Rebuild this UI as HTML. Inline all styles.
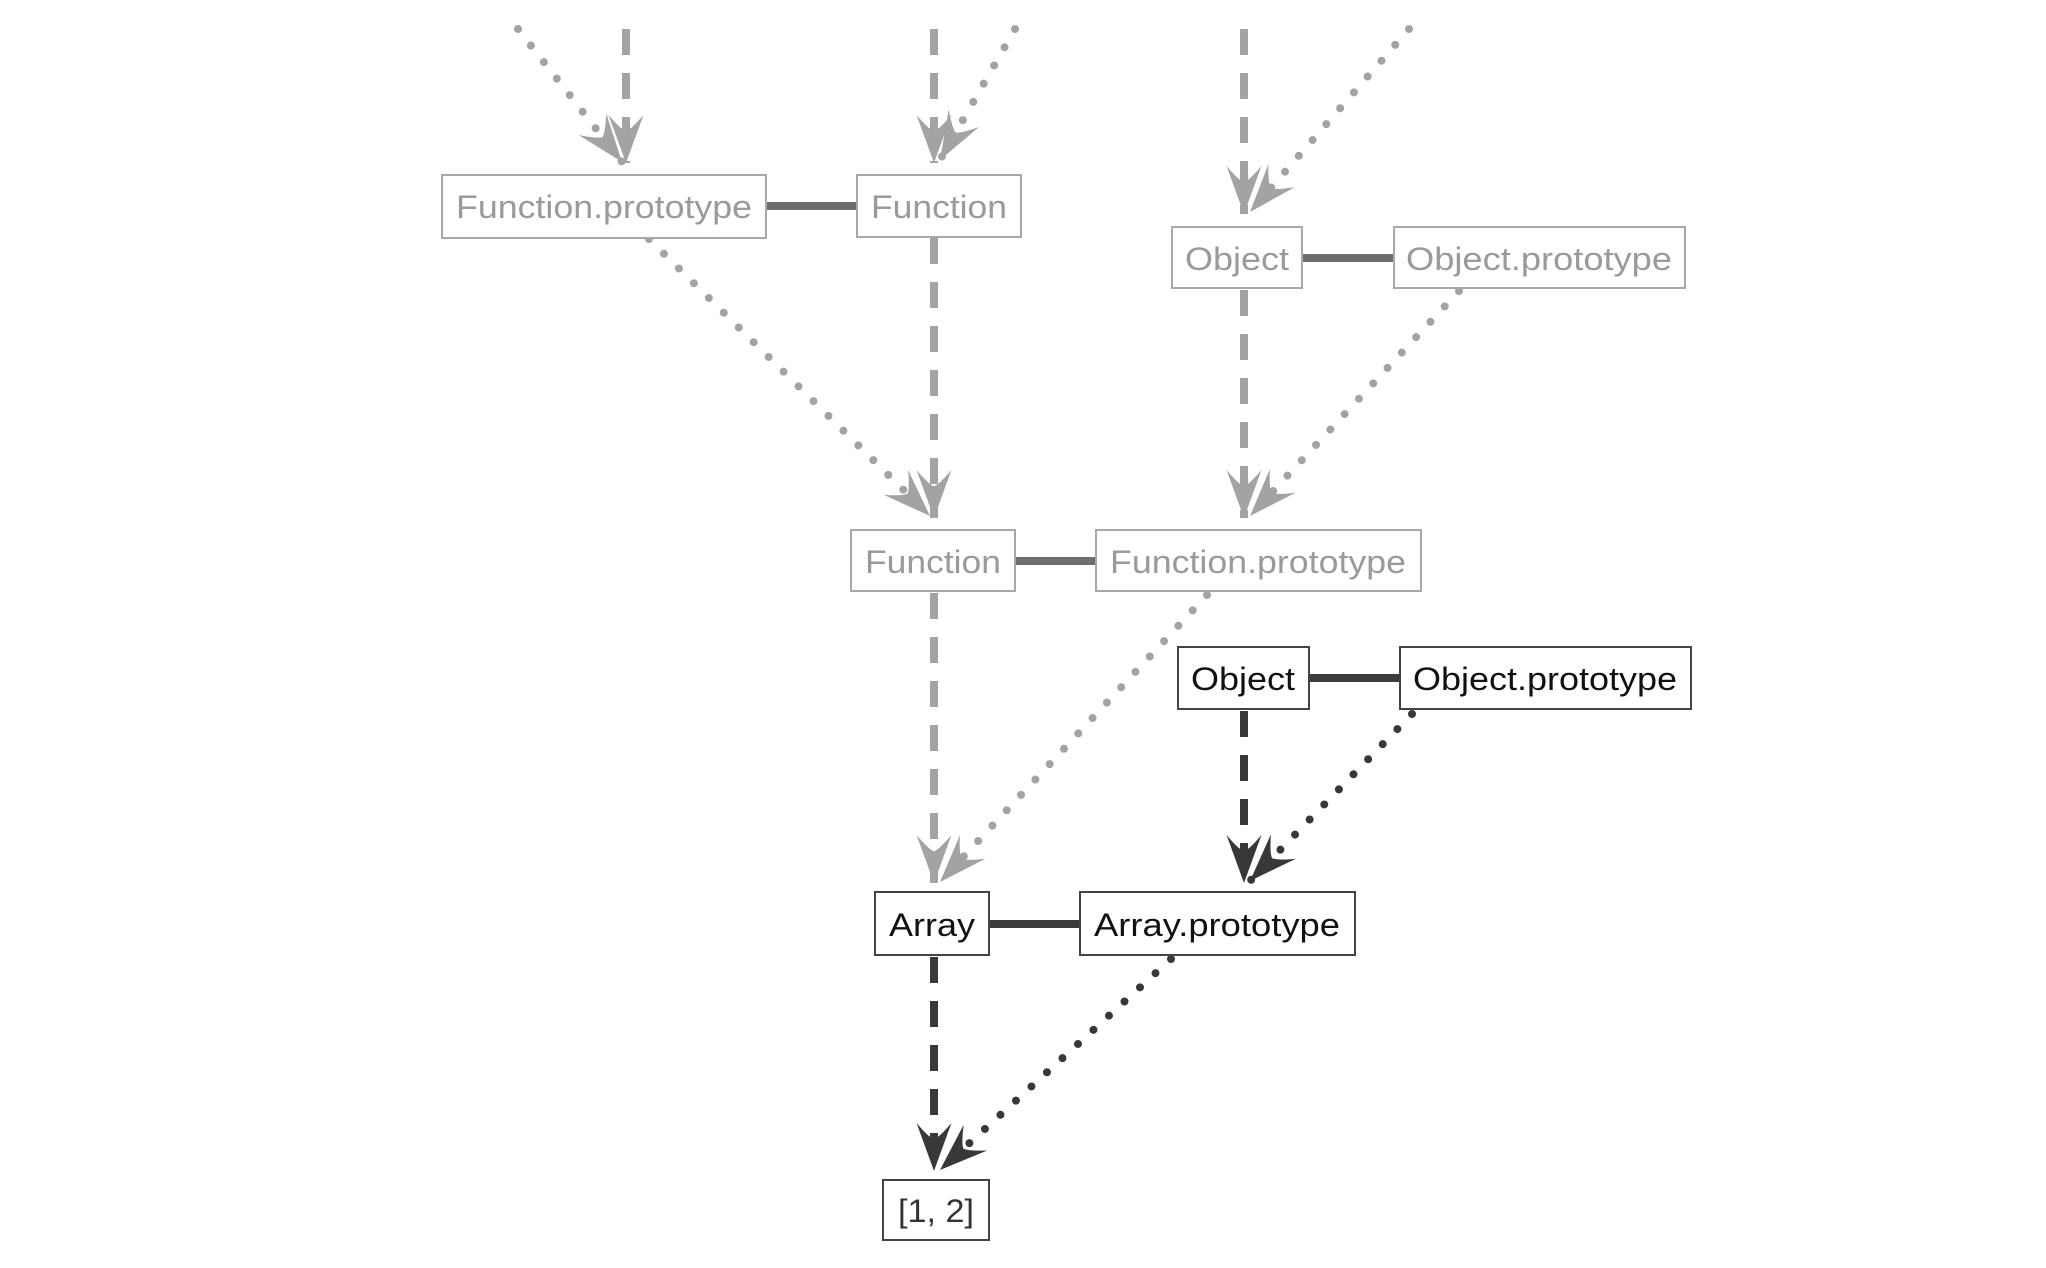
<!DOCTYPE html>
<html><head><meta charset="utf-8"><style>
html,body{margin:0;padding:0;background:#fff;}
svg{display:block;}
text{font-family:"Liberation Sans",sans-serif;font-size:32px;}
</style></head><body>
<svg width="2046" height="1268" viewBox="0 0 2046 1268" xmlns="http://www.w3.org/2000/svg">
<defs>
<marker id="ag" markerUnits="userSpaceOnUse" markerWidth="60" markerHeight="60" refX="0" refY="0" viewBox="-50 -25 55 50" orient="auto" overflow="visible">
<path d="M0,0 L-44,-16 Q-31,-5 -29,0 Q-31,5 -44,16 Z" fill="#a3a3a3"/>
</marker>
<marker id="ad" markerUnits="userSpaceOnUse" markerWidth="60" markerHeight="60" refX="0" refY="0" viewBox="-50 -25 55 50" orient="auto" overflow="visible">
<path d="M0,0 L-44,-16 Q-31,-5 -29,0 Q-31,5 -44,16 Z" fill="#383838"/>
</marker>
</defs>

<g fill="none" stroke-linecap="butt">
<g stroke="#a3a3a3" stroke-width="8" stroke-dasharray="26 18">
<line x1="626" y1="29" x2="626" y2="163" marker-end="url(#ag)"/>
<line x1="934" y1="29" x2="934" y2="163" marker-end="url(#ag)"/>
<line x1="1244" y1="29" x2="1244" y2="214" marker-end="url(#ag)"/>
<line x1="934" y1="238" x2="934" y2="518" marker-end="url(#ag)"/>
<line x1="1244" y1="290" x2="1244" y2="518" marker-end="url(#ag)"/>
<line x1="934" y1="593" x2="934" y2="883" marker-end="url(#ag)"/>
</g>
<g stroke="#a3a3a3" stroke-width="8" stroke-linecap="round" stroke-dasharray="0 21">
<line x1="518" y1="29" x2="622" y2="162" marker-end="url(#ag)"/>
<line x1="1015" y1="29" x2="940" y2="160" marker-end="url(#ag)"/>
<line x1="1409" y1="29" x2="1250" y2="212" marker-end="url(#ag)"/>
<line x1="649" y1="239" x2="930" y2="516" marker-end="url(#ag)"/>
<line x1="1459" y1="291" x2="1250" y2="516" marker-end="url(#ag)"/>
<line x1="1207" y1="595" x2="940" y2="882" marker-end="url(#ag)"/>
</g>
<g stroke="#383838" stroke-width="8" stroke-dasharray="26 18">
<line x1="1244" y1="711" x2="1244" y2="883" marker-end="url(#ad)"/>
<line x1="934" y1="957" x2="934" y2="1171" marker-end="url(#ad)"/>
</g>
<g stroke="#383838" stroke-width="8" stroke-linecap="round" stroke-dasharray="0 21">
<line x1="1412" y1="714" x2="1250" y2="881" marker-end="url(#ad)"/>
<line x1="1171" y1="959" x2="940" y2="1170" marker-end="url(#ad)"/>
</g>
</g>

<g stroke-width="8">
<line x1="766" y1="206" x2="857" y2="206" stroke="#6e6e6e"/>
<line x1="1302" y1="258" x2="1394" y2="258" stroke="#6e6e6e"/>
<line x1="1015" y1="561" x2="1096" y2="561" stroke="#6e6e6e"/>
<line x1="1309" y1="678" x2="1400" y2="678" stroke="#3c3c3c"/>
<line x1="989" y1="924" x2="1080" y2="924" stroke="#3c3c3c"/>
</g>

<g fill="#fff" stroke="#a8a8a8" stroke-width="2">
<rect x="442" y="175" width="324" height="63"/>
<rect x="857" y="175" width="164" height="62"/>
<rect x="1172" y="227" width="130" height="61"/>
<rect x="1394" y="227" width="291" height="61"/>
<rect x="851" y="530" width="164" height="61"/>
<rect x="1096" y="530" width="325" height="61"/>
</g>
<g fill="#9a9a9a" text-anchor="middle">
<text x="604" y="218" textLength="296" lengthAdjust="spacingAndGlyphs">Function.prototype</text>
<text x="939" y="218" textLength="136" lengthAdjust="spacingAndGlyphs">Function</text>
<text x="1237" y="270" textLength="104" lengthAdjust="spacingAndGlyphs">Object</text>
<text x="1539" y="270" textLength="266" lengthAdjust="spacingAndGlyphs">Object.prototype</text>
<text x="933" y="573" textLength="136" lengthAdjust="spacingAndGlyphs">Function</text>
<text x="1258" y="573" textLength="296" lengthAdjust="spacingAndGlyphs">Function.prototype</text>
</g>

<g fill="#fff" stroke="#444" stroke-width="2">
<rect x="1178" y="647" width="131" height="62"/>
<rect x="1400" y="647" width="291" height="62"/>
<rect x="875" y="892" width="114" height="63"/>
<rect x="1080" y="892" width="275" height="63"/>
<rect x="883" y="1180" width="106" height="60"/>
</g>
<g fill="#111" text-anchor="middle">
<text x="1243" y="690" textLength="104" lengthAdjust="spacingAndGlyphs">Object</text>
<text x="1545" y="690" textLength="264" lengthAdjust="spacingAndGlyphs">Object.prototype</text>
<text x="932" y="936" textLength="86" lengthAdjust="spacingAndGlyphs">Array</text>
<text x="1217" y="936" textLength="246" lengthAdjust="spacingAndGlyphs">Array.prototype</text>
<text x="936" y="1222" fill="#333" textLength="76" lengthAdjust="spacingAndGlyphs">[1, 2]</text>
</g>
</svg>
</body></html>
